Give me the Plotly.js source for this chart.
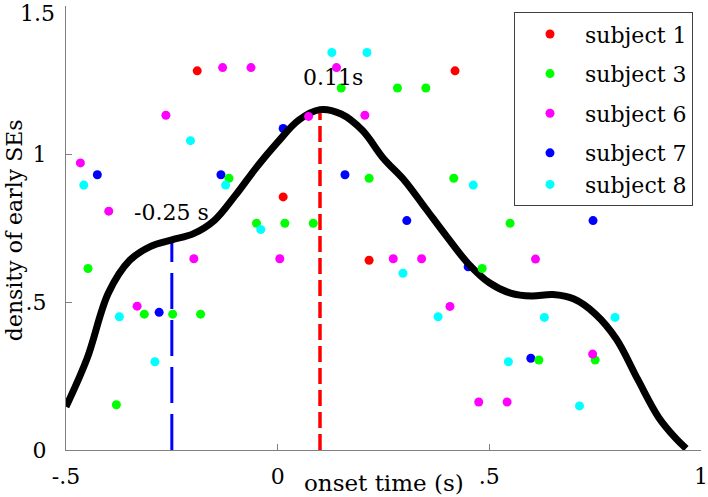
<!DOCTYPE html>
<html>
<head>
<meta charset="utf-8">
<script src="https://cdn.plot.ly/plotly-3.0.1.min.js"></script>
<style>html,body{margin:0;padding:0;background:#fff;}#chart{width:708px;height:497px;}</style>
</head>
<body>
<div id="chart"></div>
<script>
// ---- data ----
const subjectNames = ["subject 1", "subject 3", "subject 6", "subject 7", "subject 8"];
const subjectColors = ["#ff0000", "#00ff00", "#ff00ff", "#0000ff", "#00ffff"];

const s1x = [-0.190, 0.419, 0.013, 0.216];
const s1y = [1.281, 1.281, 0.855, 0.641];

const s3x = [0.150, 0.283, 0.350, -0.448, -0.115, 0.216, 0.416, -0.050, 0.017, 0.084, 0.549, 0.483, -0.315, -0.248, -0.182, -0.381, 0.617, 0.750];
const s3y = [1.223, 1.223, 1.223, 0.613, 0.918, 0.918, 0.918, 0.766, 0.766, 0.766, 0.766, 0.613, 0.459, 0.459, 0.459, 0.153, 0.304, 0.304];

const s6x = [-0.466, -0.264, -0.130, -0.063, 0.139, 0.206, 0.073, -0.399, -0.198, 0.005, 0.273, 0.340, 0.609, -0.332, 0.407, 0.475, 0.542, 0.744];
const s6y = [0.970, 1.131, 1.292, 1.292, 1.292, 1.131, 1.127, 0.807, 0.646, 0.646, 0.646, 0.646, 0.645, 0.486, 0.485, 0.162, 0.162, 0.324];

const s7x = [0.013, -0.426, -0.134, 0.159, 0.305, 0.745, 0.450, -0.280, 0.598];
const s7y = [1.086, 0.930, 0.930, 0.930, 0.775, 0.775, 0.619, 0.465, 0.310];

const s8x = [0.128, 0.211, -0.206, -0.458, -0.123, 0.462, -0.040, 0.296, -0.374, 0.379, 0.630, 0.797, -0.290, 0.545, 0.713];
const s8y = [1.343, 1.343, 1.045, 0.895, 0.895, 0.895, 0.745, 0.597, 0.450, 0.450, 0.448, 0.448, 0.298, 0.298, 0.149];

// density curve
const densX = [-0.5, -0.45, -0.4, -0.35, -0.3, -0.25, -0.2, -0.15, -0.1, -0.05, 0.0, 0.05, 0.10, 0.15, 0.2, 0.25, 0.3, 0.35, 0.4, 0.45, 0.5, 0.55, 0.6, 0.65, 0.7, 0.75, 0.8, 0.85, 0.9, 0.94, 0.965];
const densY = [0.146, 0.31, 0.53, 0.64, 0.688, 0.71, 0.73, 0.775, 0.86, 0.955, 1.04, 1.115, 1.15, 1.135, 1.08, 0.985, 0.91, 0.815, 0.72, 0.63, 0.565, 0.53, 0.52, 0.525, 0.51, 0.46, 0.375, 0.24, 0.11, 0.04, 0.005];

// marked peaks
const peakX = [-0.25, 0.10];
const peakY = [0.71, 1.15];
const peakLabels = ["-0.25 s", "0.11s"];
const peakLabelX = [-0.251, 0.130];
const peakLabelY = [0.804, 1.257];
const peakColors = ["#0000ff", "#ff0000"];

const xTickVals = [-0.5, 0, 0.5, 1];
const xTickText = ["-.5", "0", ".5", "1"];
const yTickVals = [0, 0.5, 1, 1.5];
const yTickText = ["0", ".5", "1", "1.5"];

const xTitle = "onset time (s)";
const yTitle = "density of early SEs";

// ---- build ----
const FONT = "DejaVu Serif";
const sx = [s1x, s3x, s6x, s7x, s8x];
const sy = [s1y, s3y, s6y, s7y, s8y];

const traces = [];
traces.push({x:[peakX[0], peakX[0]], y:[0, peakY[0]], mode:'lines', showlegend:false, hoverinfo:'skip',
  line:{color:peakColors[0], width:3, dash:'36px,11px'}});
traces.push({x:[peakX[1], peakX[1]], y:[0, peakY[1]], mode:'lines', showlegend:false, hoverinfo:'skip',
  line:{color:peakColors[1], width:3.5, dash:'16px,6px'}});
traces.push({x:sx[3], y:sy[3], mode:'markers', name:subjectNames[3], legendrank:4, legendgroup:'g4',
  marker:{color:subjectColors[3], size:9}});
traces.push({x:densX, y:densY, mode:'lines', showlegend:false, hoverinfo:'skip',
  line:{color:'#000', width:7, shape:'spline', smoothing:1}});
[0,1,2,4].forEach(i => {
  traces.push({x:sx[i], y:sy[i], mode:'markers', name:subjectNames[i], legendrank:i+1, legendgroup:'g'+i,
    marker:{color:subjectColors[i], size:9}});
});

// the top tick label sits at the very edge of the figure; draw it nudged down so it stays whole
const lastTick = yTickVals.length - 1;
const shownTickText = yTickText.map((t,i) => i === lastTick ? "" : t);

const annotations = peakLabels.map((t,i) => ({x:peakLabelX[i], y:peakLabelY[i], xref:'x', yref:'y', text:t,
  showarrow:false, font:{family:FONT, size:22, color:'#000'}, xanchor:'center', yanchor:'middle'}));
annotations.push({x:0, y:yTickVals[lastTick], xref:'paper', yref:'y', text:yTickText[lastTick], showarrow:false,
  font:{family:FONT, size:22, color:'#000'}, xanchor:'right', yanchor:'middle', xshift:-9, yshift:-7});
annotations.push({x:0.5, y:-0.074, xref:'paper', yref:'paper', text:xTitle, showarrow:false,
  font:{family:FONT, size:23, color:'#000'}, xanchor:'center', yanchor:'middle'});
annotations.push({x:-0.08, y:0.4955, xref:'paper', yref:'paper', text:yTitle, showarrow:false, textangle:-90,
  font:{family:FONT, size:22, color:'#000'}, xanchor:'center', yanchor:'middle'});

const layout = {
  width:708, height:497,
  margin:{l:66, r:7, t:6, b:47},
  paper_bgcolor:'#fff', plot_bgcolor:'#fff',
  font:{family:FONT, size:22, color:'#000'},
  xaxis:{range:[-0.5,1], tickvals:xTickVals, ticktext:xTickText, showgrid:false, zeroline:false,
    showline:true, linecolor:'#808080', linewidth:1, ticks:'inside', ticklen:6, tickcolor:'#808080',
    tickfont:{family:FONT, size:22, color:'#000'}, ticklabelstandoff:7, fixedrange:true},
  yaxis:{range:[0,1.5], tickvals:yTickVals, ticktext:shownTickText, showgrid:false, zeroline:false,
    showline:true, linecolor:'#808080', linewidth:1, ticks:'inside', ticklen:6, tickcolor:'#808080',
    tickfont:{family:FONT, size:22, color:'#000'}, ticklabelstandoff:14, fixedrange:true},
  legend:{x:0.7055, y:0.986, xanchor:'left', yanchor:'top', bgcolor:'#fff', bordercolor:'#404040', borderwidth:1,
    font:{family:FONT, size:22, color:'#000'}, traceorder:'grouped', tracegroupgap:8, itemwidth:60},
  annotations:annotations,
  showlegend:true
};

Plotly.newPlot('chart', traces, layout, {staticPlot:true, displayModeBar:false});
</script>
</body>
</html>
